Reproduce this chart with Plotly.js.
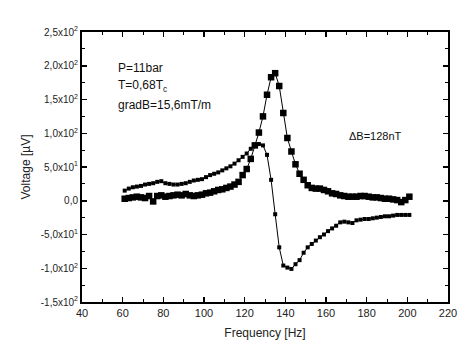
<!DOCTYPE html>
<html>
<head>
<meta charset="utf-8">
<script src="https://cdn.plot.ly/plotly-3.0.1.min.js"></script>
<style>html,body{margin:0;padding:0;background:#fff;}#chart{width:474px;height:353px;}</style>
</head>
<body>
<div id="chart"></div>
<script>
const freq = [61,63,65,67,69,71,73,75,77,79,81,83,85,87,89,91,93,95,97,99,101,103,105,107,109,111,113,115,117,119,121,123,125,127,129,131,133,135,137,139,141,143,145,147,149,151,153,155,157,159,161,163,165,167,169,171,173,175,177,179,181,183,185,187,189,191,193,195,197,199,201];
const absorption = [3,4,5,6,5,4,7,-1,7,8,6,7,8,9,8,10,8,7,8,9,11,12,14,16,17,19,21,24,28,38,47,62,82,101,125,157,183,189,170,130,93,73,54,40,31,23,19,18,18,16,14,11,10,8,7,6,6,6,7,7,6,5,5,4,3,3,2,1,-2,1,6];
const dispersion = [15,18,20,21,22,24,25,26,28,29,26,25,24,24,25,26,28,30,31,32,35,38,40,42,45,48,51,55,60,65,70,77,83,84,82,68,31,-20,-69,-96,-99,-101,-94,-88,-77,-69,-64,-59,-54,-50,-45,-41,-37,-32,-31,-32,-33,-29,-28,-27,-27,-26,-25,-24,-23,-23,-22,-21,-21,-21,-21];
const yTickVals = [-150,-100,-50,0,50,100,150,200,250];
const yTickText = ['-1,5x10<sup>2</sup>','-1,0x10<sup>2</sup>','-5,0x10<sup>1</sup>','0,0','5,0x10<sup>1</sup>','1,0x10<sup>2</sup>','1,5x10<sup>2</sup>','2,0x10<sup>2</sup>','2,5x10<sup>2</sup>'];
const xTickVals = [40,60,80,100,120,140,160,180,200,220];

const font = 'Liberation Sans, Arial, sans-serif';
const traces = [
  {x: freq, y: dispersion, mode: 'lines+markers', type: 'scatter',
   line: {color: '#000', width: 1}, marker: {symbol: 'square', size: 4, color: '#000'}},
  {x: freq, y: absorption, mode: 'lines+markers', type: 'scatter',
   line: {color: '#000', width: 1}, marker: {symbol: 'square', size: 6.5, color: '#000'}}
];
const axisCommon = {
  showgrid: false, zeroline: false, showline: true, linecolor: '#000', linewidth: 2,
  mirror: 'ticks', ticks: 'inside', ticklen: 5, tickwidth: 1.5, tickcolor: '#000'
};
const layout = {
  width: 474, height: 353,
  margin: {l: 82, r: 26, t: 32, b: 51},
  paper_bgcolor: '#fff', plot_bgcolor: '#fff',
  showlegend: false,
  font: {family: font, color: '#222'},
  xaxis: Object.assign({}, axisCommon, {
    range: [40, 220], tickvals: xTickVals, ticktext: xTickVals.map(String),
    tickfont: {family: font, size: 11, color: '#222'},
    minor: {dtick: 10, tick0: 40, ticks: 'inside', ticklen: 3, tickcolor: '#000', tickwidth: 1},
    title: {text: 'Frequency [Hz]', font: {family: font, size: 12, color: '#222'}, standoff: 10}
  }),
  yaxis: Object.assign({}, axisCommon, {
    range: [-150, 250], tickvals: yTickVals, ticktext: yTickText,
    tickfont: {family: font, size: 10, color: '#222'},
    minor: {dtick: 25, tick0: 0, ticks: 'inside', ticklen: 3, tickcolor: '#000', tickwidth: 1},
    title: {text: 'Voltage [µV]', font: {family: font, size: 12, color: '#222'}, standoff: 8}
  }),
  annotations: [
    {xref: 'paper', yref: 'paper', x: 0.093, y: 0.866, xanchor: 'left', yanchor: 'middle', showarrow: false,
     text: 'P=11bar', font: {family: font, size: 12, color: '#111'}},
    {xref: 'paper', yref: 'paper', x: 0.093, y: 0.80, xanchor: 'left', yanchor: 'middle', showarrow: false,
     text: 'T=0,68T<sub>c</sub>', font: {family: font, size: 12, color: '#111'}},
    {xref: 'paper', yref: 'paper', x: 0.093, y: 0.73, xanchor: 'left', yanchor: 'middle', showarrow: false,
     text: 'gradB=15,6mT/m', font: {family: font, size: 12, color: '#111'}},
    {xref: 'paper', yref: 'paper', x: 0.724, y: 0.615, xanchor: 'left', yanchor: 'middle', showarrow: false,
     text: 'ΔB=128nT', font: {family: font, size: 11, color: '#111'}}
  ]
};
Plotly.newPlot('chart', traces, layout, {displayModeBar: false, staticPlot: true});
</script>
</body>
</html>
